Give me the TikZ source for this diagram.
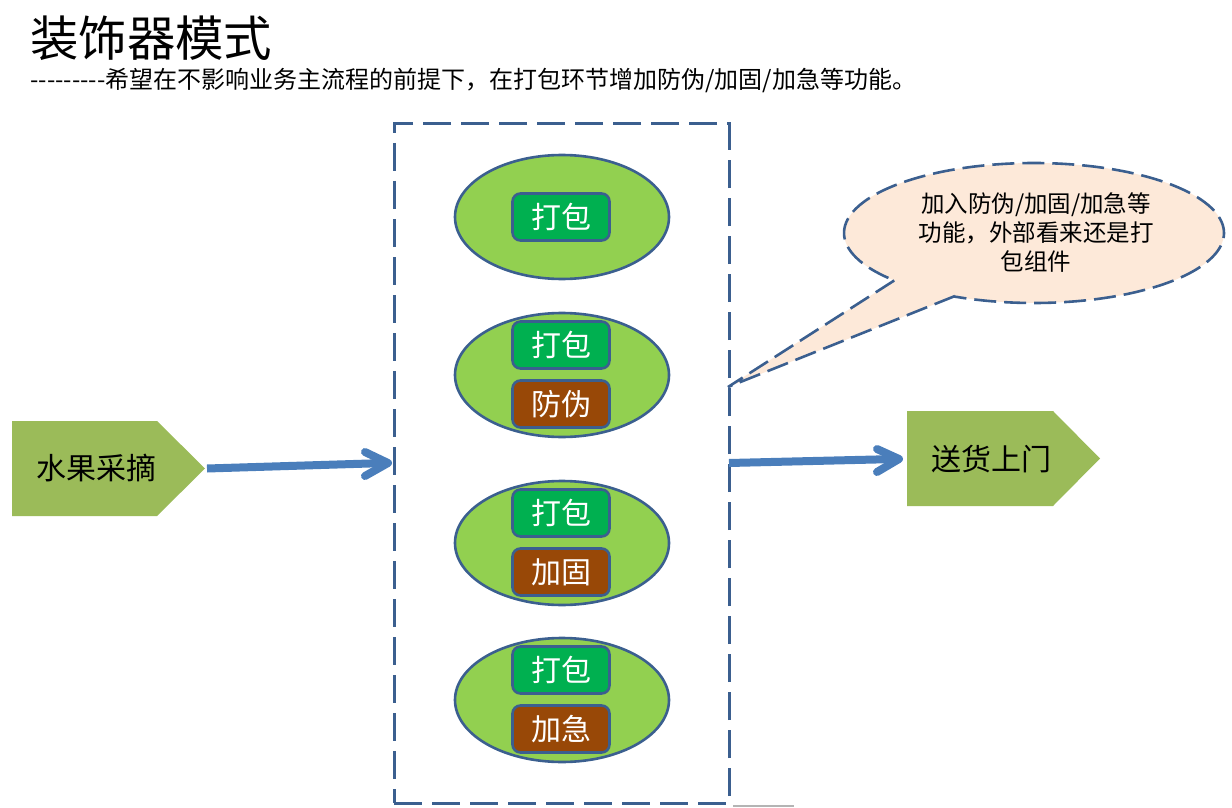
\documentclass[tikz,border=0pt]{standalone}
\usepackage{fontspec}
\setmainfont{Noto Sans CJK SC}[Ligatures=TeXOff]
\usetikzlibrary{shapes.geometric}
\definecolor{edgeblue}{HTML}{3B5F8F}
\definecolor{ballgreen}{HTML}{92D050}
\definecolor{boxgreen}{HTML}{00B050}
\definecolor{boxbrown}{HTML}{984807}
\definecolor{pentgreen}{HTML}{9BBB59}
\definecolor{arrowblue}{HTML}{4A7EBB}
\definecolor{notefill}{HTML}{FDE9D9}
\definecolor{edgegrey}{HTML}{B4B4B4}
\begin{document}
\begin{tikzpicture}[x=0.5pt,y=-0.5pt,
  outerball/.style={ellipse, draw=edgeblue, line width=1.3pt, fill=ballgreen,
    minimum width=107pt, minimum height=62pt, inner sep=0pt},
  packbox/.style={draw=edgeblue, line width=1.3pt, rounded corners=4pt, fill=boxgreen,
    minimum width=48.5pt, minimum height=23.5pt, inner sep=0pt, text=white,
    font=\fontsize{15}{18}\selectfont},
  decobox/.style={packbox, fill=boxbrown},
  framebox/.style={draw=edgeblue, line width=1.5pt, dash pattern=on 14pt off 5pt,
    minimum width=167.5pt, minimum height=339.5pt, inner sep=0pt},
  pentshape/.style={fill=pentgreen},
  penttext/.style={font=\fontsize{15}{18}\selectfont, inner sep=0pt},
  shaft/.style={draw=arrowblue, line width=4pt},
  barb/.style={draw=arrowblue, line width=4pt, line cap=round, line join=round},
  notestyle/.style={fill=notefill, draw=edgeblue, line width=1.3pt, dash pattern=on 11pt off 4pt},
  notetext/.style={align=center, font=\fontsize{11.75}{14.5}\selectfont, inner sep=0pt}
]
\useasboundingbox (0,0) rectangle (1232,808);

% title
\node[anchor=base west, inner sep=0pt, font=\fontsize{24.2}{28}\selectfont] (title) at (30,57) {装饰器模式};
\node[anchor=base west, inner sep=0pt, font=\fontsize{12}{14}\selectfont] (subtitle) at (30,89)
  {---------希望在不影响业务主流程的前提下，在打包环节增加防伪/加固/加急等功能。};

% dashed frame
\node[framebox] (frame) at (561.5,463.5) {};

% callout
\coordinate (noteA) at (955,296);
\coordinate (notetip) at (728,387);
\coordinate (noteB) at (895,280);
\path[notestyle] (noteA) -- (notetip) -- (noteB)
  -- plot[domain=137.5:474.8, samples=140, smooth] ({1034+190*cos(\x)},{233+70*sin(\x)}) -- cycle;
\node[notetext] (note) at (1036,233) {加入防伪/加固/加急等\\功能，外部看来还是打\\包组件};

% ellipses
\node[outerball] (ball1) at (562,217) {};
\node[outerball] (ball2) at (562,375) {};
\node[outerball] (ball3) at (562,543) {};
\node[outerball] (ball4) at (562,700) {};

\node[packbox] (pack1) at (561,217) {打包};
\node[packbox] (pack2) at (561,345) {打包};
\node[decobox] (anti) at (561,404) {防伪};
\node[packbox] (pack3) at (561,513) {打包};
\node[decobox] (strong) at (561,572) {加固};
\node[packbox] (pack4) at (561,670) {打包};
\node[decobox] (urgent) at (561,729) {加急};

% pentagons
\fill[pentshape] (12,421) -- (157,421) -- (205,468.5) -- (157,516) -- (12,516) -- cycle;
\coordinate (fruittip) at (207,468.5);
\node[penttext] (fruit) at (96,468) {水果采摘};
\fill[pentshape] (907,411) -- (1053,411) -- (1100,458.5) -- (1053,506) -- (907,506) -- cycle;
\node[penttext] (deliver) at (991,459) {送货上门};

% arrows
\coordinate (intip) at (388,463);
\path[shaft] (fruittip) -- ([xshift=-1pt]intip);
\path[barb] ([shift={(-23,-11)}]intip) -- (intip) -- ([shift={(-23,13)}]intip);
\coordinate (outstart) at (729,463);
\coordinate (outtip) at (899,459);
\path[shaft] (outstart) -- ([xshift=-1pt]outtip);
\path[barb] ([shift={(-22,-10)}]outtip) -- (outtip) -- ([shift={(-22,13)}]outtip);

% stray grey rule at the bottom
\coordinate (greyA) at (733,806);
\coordinate (greyB) at (794,806);
\draw[edgegrey, line width=0.6pt] (greyA) -- (greyB);
\end{tikzpicture}
\end{document}
